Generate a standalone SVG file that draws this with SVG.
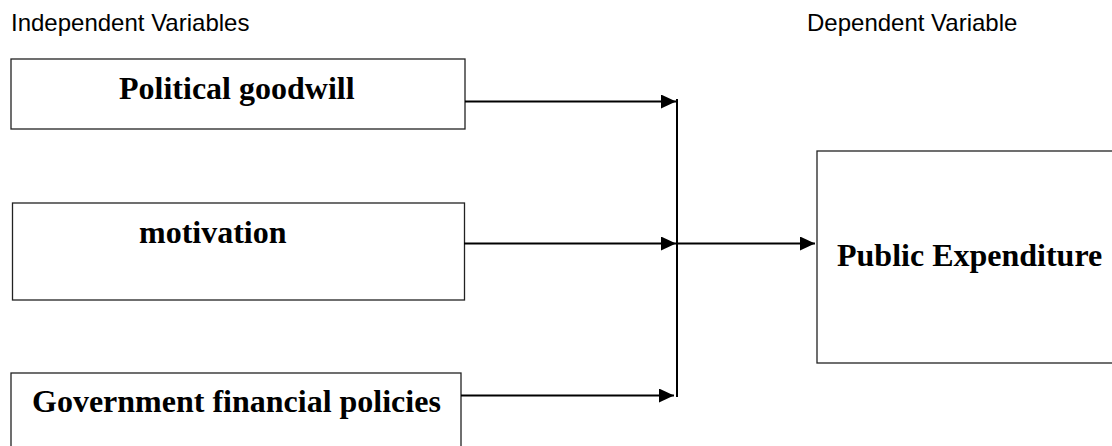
<svg xmlns="http://www.w3.org/2000/svg" width="1112" height="446" viewBox="0 0 1112 446">
<style>
.box{fill:#fff;stroke:#222;stroke-width:1.3}
.lbl{font-family:"Liberation Serif","Times New Roman",serif;font-weight:bold;font-size:32px;fill:#000}
.hdr{font-family:"Liberation Sans",Arial,sans-serif;font-size:24px;fill:#000}
.con{stroke:#000;stroke-width:2;fill:none}
</style>
<defs>
<marker id="ah" markerUnits="userSpaceOnUse" markerWidth="16" markerHeight="16" refX="15" refY="7" orient="auto">
<path d="M0,0 L15,7 L0,14 Z" fill="#000"/>
</marker>
</defs>
<rect width="1112" height="446" fill="#fff"/>
<text class="hdr" x="11" y="31">Independent Variables</text>
<text class="hdr" x="807" y="31">Dependent Variable</text>
<g id="n1">
<rect class="box" x="11" y="59" width="454" height="70"/>
<text class="lbl" x="119" y="99">Political goodwill</text>
</g>
<g id="n2">
<rect class="box" x="12.5" y="203" width="452" height="97"/>
<text class="lbl" x="139" y="243">motivation</text>
</g>
<g id="n3">
<rect class="box" x="11" y="373" width="450" height="90"/>
<text class="lbl" x="32" y="411.5">Government financial policies</text>
</g>
<g id="n4">
<rect class="box" x="817" y="151" width="320" height="212"/>
<text class="lbl" x="837" y="266">Public Expenditure</text>
</g>
<g id="connectors">
<line class="con" x1="465" y1="101.5" x2="676" y2="101.5" marker-end="url(#ah)"/>
<line class="con" x1="464" y1="243.5" x2="676" y2="243.5" marker-end="url(#ah)"/>
<line class="con" x1="461" y1="395.5" x2="674" y2="395.5" marker-end="url(#ah)"/>
<line class="con" x1="677" y1="99" x2="677" y2="397"/>
<line class="con" x1="677" y1="243.5" x2="815" y2="243.5" marker-end="url(#ah)"/>
</g>
</svg>
